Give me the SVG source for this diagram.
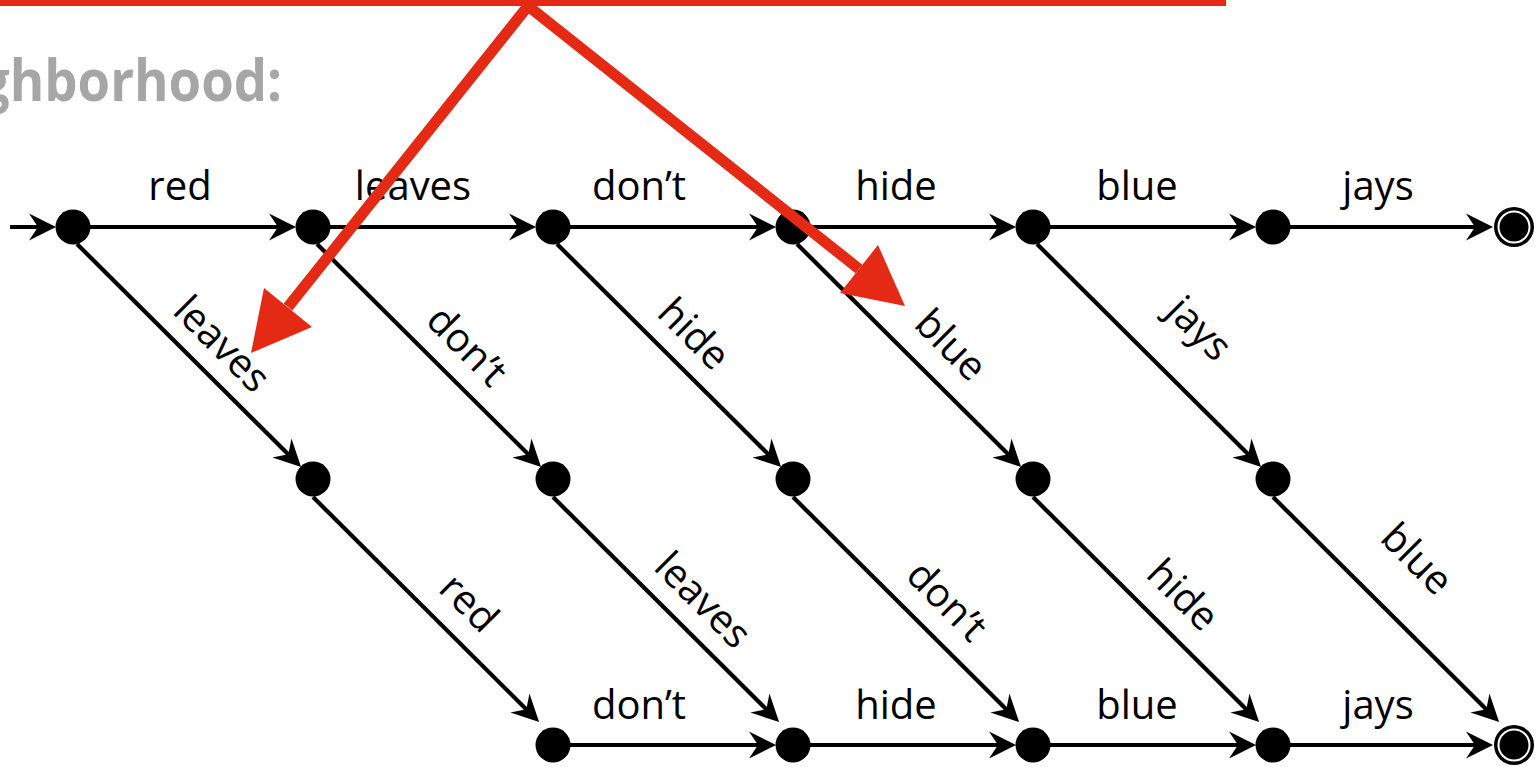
<svg xmlns="http://www.w3.org/2000/svg" width="1537" height="767" viewBox="0 0 1537 767">
  <defs>
    <style>
      .edge { fill: none; stroke: #000; stroke-width: 4.2; marker-end: url(#arrow); }
      .node { fill: #000; }
      .ring { fill: none; stroke: #fff; stroke-width: 2; }
      .lbl { font-family: "Open Sans", "Liberation Sans", sans-serif; font-size: 40px; fill: #000; text-anchor: middle; }
      .title { font-family: "Open Sans", "Liberation Sans", sans-serif; font-size: 57px; font-weight: bold; fill: #a6a6a6; }
      .pointer { fill: none; stroke: #e42a15; stroke-width: 11; stroke-linejoin: miter; }
      .pointer-head { fill: #e42a15; }
    </style>
    <marker id="arrow" markerUnits="userSpaceOnUse" orient="auto" overflow="visible" refX="0" refY="0" markerWidth="30" markerHeight="30">
      <path d="M10,0 L-17,-13.5 L-8,0 L-17,13.5 Z" fill="#000"/>
    </marker>
  </defs>

  <rect width="1537" height="767" fill="#fff"/>

  <!-- heading, partly cut by the left edge -->
  <text class="title" x="-20" y="101" textLength="302" lengthAdjust="spacingAndGlyphs">ghborhood:</text>

  <!-- transitions -->
  <g id="connectors">
    <path class="edge" d="M10,227 L46,227"/>
    <!-- top row -->
    <path class="edge" d="M73,227 L286,227"/>
    <path class="edge" d="M313,227 L526,227"/>
    <path class="edge" d="M553,227 L766,227"/>
    <path class="edge" d="M793,227 L1006,227"/>
    <path class="edge" d="M1033,227 L1246,227"/>
    <path class="edge" d="M1273,227 L1483,227"/>
    <!-- top to middle -->
    <path class="edge" d="M77,244 L294,460"/>
    <path class="edge" d="M317,244 L534,460"/>
    <path class="edge" d="M557,244 L774,460"/>
    <path class="edge" d="M797,244 L1014,460"/>
    <path class="edge" d="M1037,244 L1254,460"/>
    <!-- middle to bottom -->
    <path class="edge" d="M313,497 L532,715"/>
    <path class="edge" d="M553,497 L772,715"/>
    <path class="edge" d="M793,497 L1012,715"/>
    <path class="edge" d="M1033,497 L1252,715"/>
    <path class="edge" d="M1273,497 L1492,715"/>
    <!-- bottom row -->
    <path class="edge" d="M553,745 L766,745"/>
    <path class="edge" d="M793,745 L1006,745"/>
    <path class="edge" d="M1033,745 L1246,745"/>
    <path class="edge" d="M1273,745 L1483,745"/>

    <!-- horizontal labels -->
    <text class="lbl" x="180" y="200">red</text>
    <text class="lbl" x="413" y="200">leaves</text>
    <text class="lbl" x="639" y="200">don’t</text>
    <text class="lbl" x="896" y="200">hide</text>
    <text class="lbl" x="1137" y="200">blue</text>
    <text class="lbl" x="1378" y="200">jays</text>
    <text class="lbl" x="639" y="719">don’t</text>
    <text class="lbl" x="896" y="719">hide</text>
    <text class="lbl" x="1137" y="719">blue</text>
    <text class="lbl" x="1378" y="719">jays</text>

    <!-- diagonal labels -->
    <text class="lbl" transform="translate(223,343) rotate(45)" y="15">leaves</text>
    <text class="lbl" transform="translate(468,345) rotate(45)" y="15">don’t</text>
    <text class="lbl" transform="translate(695,333) rotate(45)" y="15">hide</text>
    <text class="lbl" transform="translate(952,344) rotate(45)" y="15">blue</text>
    <text class="lbl" transform="translate(1197,331) rotate(45)" y="10">jays</text>
    <text class="lbl" transform="translate(470,602) rotate(45)" y="15">red</text>
    <text class="lbl" transform="translate(704,599) rotate(45)" y="15">leaves</text>
    <text class="lbl" transform="translate(948,600) rotate(45)" y="15">don’t</text>
    <text class="lbl" transform="translate(1184,594) rotate(45)" y="15">hide</text>
    <text class="lbl" transform="translate(1418,558) rotate(45)" y="15">blue</text>
  </g>

  <!-- states -->
  <g id="n0"><circle class="node" cx="73" cy="227" r="17.5"/></g>
  <g id="n1"><circle class="node" cx="313" cy="227" r="17.5"/></g>
  <g id="n2"><circle class="node" cx="553" cy="227" r="17.5"/></g>
  <g id="n3"><circle class="node" cx="793" cy="227" r="17.5"/></g>
  <g id="n4"><circle class="node" cx="1033" cy="227" r="17.5"/></g>
  <g id="n5"><circle class="node" cx="1273" cy="227" r="17.5"/></g>
  <g id="final-top"><circle class="node" cx="1514" cy="227" r="20"/><circle class="ring" cx="1514" cy="227" r="15.5"/></g>

  <g id="m1"><circle class="node" cx="313" cy="479" r="17.5"/></g>
  <g id="m2"><circle class="node" cx="553" cy="479" r="17.5"/></g>
  <g id="m3"><circle class="node" cx="793" cy="479" r="17.5"/></g>
  <g id="m4"><circle class="node" cx="1033" cy="479" r="17.5"/></g>
  <g id="m5"><circle class="node" cx="1273" cy="479" r="17.5"/></g>

  <g id="b2"><circle class="node" cx="553" cy="745" r="17.5"/></g>
  <g id="b3"><circle class="node" cx="793" cy="745" r="17.5"/></g>
  <g id="b4"><circle class="node" cx="1033" cy="745" r="17.5"/></g>
  <g id="b5"><circle class="node" cx="1273" cy="745" r="17.5"/></g>
  <g id="final-bottom"><circle class="node" cx="1514" cy="745" r="20"/><circle class="ring" cx="1514" cy="745" r="15.5"/></g>

  <!-- red callout pointers -->
  <g id="callout">
    <rect x="-5" y="-10" width="1231" height="16" fill="#e42a15"/>
    <path class="pointer" d="M288,307 L528,6 L859,269"/>
    <path class="pointer-head" d="M251,353 L264,288 L312,327 Z"/>
    <path class="pointer-head" d="M905,306 L878,245 L840,293 Z"/>
  </g>
</svg>
